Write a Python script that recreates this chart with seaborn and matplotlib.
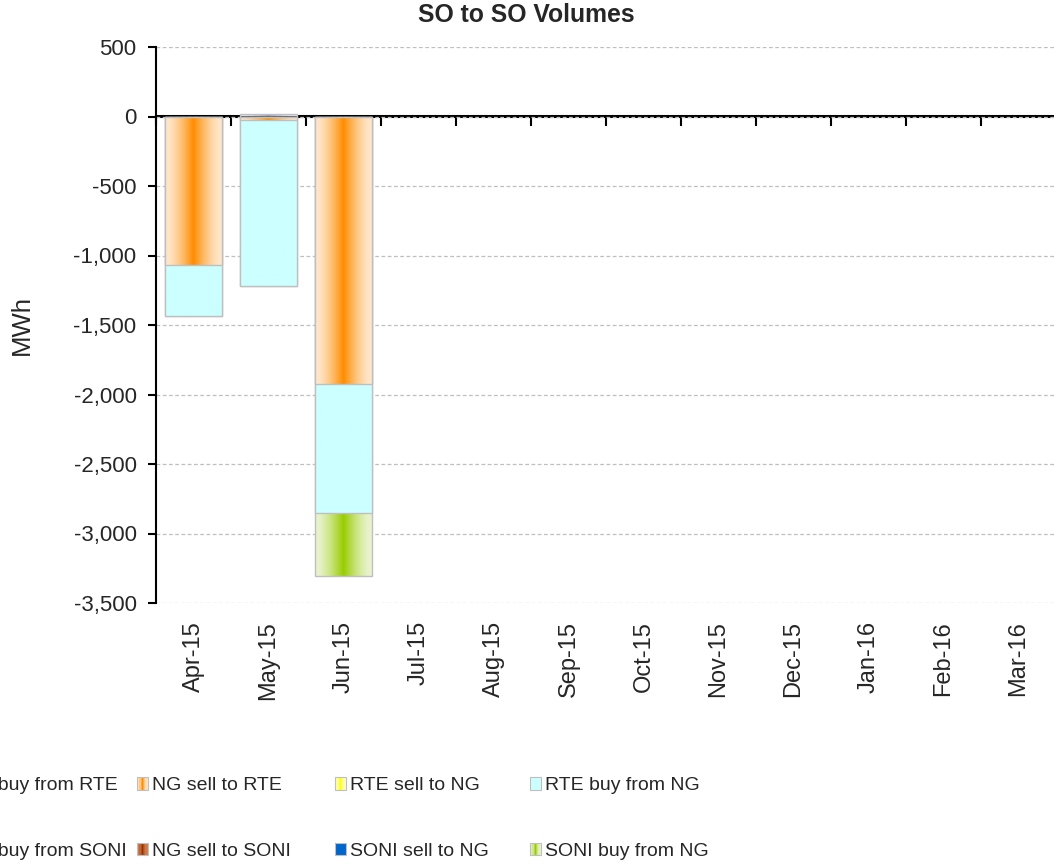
import numpy as np
import matplotlib
matplotlib.use("Agg")
import matplotlib.pyplot as plt
import seaborn as sns
from matplotlib.patches import Rectangle
from matplotlib.legend_handler import HandlerBase
from matplotlib.colors import to_rgb
from matplotlib.ticker import FuncFormatter
from matplotlib import font_manager

# ---------------- data ----------------
months = ["Apr-15", "May-15", "Jun-15", "Jul-15", "Aug-15", "Sep-15",
          "Oct-15", "Nov-15", "Dec-15", "Jan-16", "Feb-16", "Mar-16"]

ng_buy_from_rte = [0, 15, 0, 0, 0, 0, 0, 0, 0, 0, 0, 0]
ng_sell_to_rte = [-1066, -22, -1925, 0, 0, 0, 0, 0, 0, 0, 0, 0]
rte_sell_to_ng = [0, 0, 0, 0, 0, 0, 0, 0, 0, 0, 0, 0]
rte_buy_from_ng = [-367, -1195, -925, 0, 0, 0, 0, 0, 0, 0, 0, 0]
ng_buy_from_soni = [0, 0, 0, 0, 0, 0, 0, 0, 0, 0, 0, 0]
ng_sell_to_soni = [0, 0, 0, 0, 0, 0, 0, 0, 0, 0, 0, 0]
soni_sell_to_ng = [0, 0, 0, 0, 0, 0, 0, 0, 0, 0, 0, 0]
soni_buy_from_ng = [0, 0, -455, 0, 0, 0, 0, 0, 0, 0, 0, 0]

series_names = ["NG buy from RTE", "NG sell to RTE", "RTE sell to NG", "RTE buy from NG",
                "NG buy from SONI", "NG sell to SONI", "SONI sell to NG", "SONI buy from NG"]
series_values = [ng_buy_from_rte, ng_sell_to_rte, rte_sell_to_ng, rte_buy_from_ng,
                 ng_buy_from_soni, ng_sell_to_soni, soni_sell_to_ng, soni_buy_from_ng]

# (centre colour, edge colour) of the horizontal gradient of each series
centre_colors = ["#9A9AC8", "#FF8C00", "#FFFF00", "#CCFFFF",
                 "#6B6B9A", "#993300", "#0066CC", "#99CC00"]
edge_colors = ["#E4E4F2", "#FFE6C8", "#FFFFC8", "#CCFFFF",
               "#C8C8DC", "#D08050", "#0066CC", "#E8F3CC"]

# ---------------- style ----------------
sns.set_style("white")
names = {f.name for f in font_manager.fontManager.ttflist}
BASE = "Liberation Sans" if "Liberation Sans" in names else "DejaVu Sans"
plt.rcParams["font.family"] = [BASE, "DejaVu Sans"]

W, H = 1054, 866
fig = plt.figure(figsize=(W / 100, H / 100), dpi=100)
ax = fig.add_axes([156 / W, 1 - 603 / H, 900 / W, 556 / H])


def gradient(centre, edge, n=96):
    u = np.linspace(-1, 1, n)
    w = np.clip((1 - np.abs(u) - 0.08) / 0.92, 0, 1) ** 1.4
    c = np.array(to_rgb(centre))
    e = np.array(to_rgb(edge))
    return (e[None, :] * (1 - w[:, None]) + c[None, :] * w[:, None])[None, :, :]


z = 2.0
for sign in (-1, 1):
    parts = [np.where(np.sign(v) == sign, np.array(v, float), 0.0) for v in series_values]
    cums = np.cumsum(parts, axis=0)
    for k in range(len(series_values) - 1, -1, -1):
        if not np.any(parts[k]):
            continue
        n_before = len(ax.patches)
        sns.barplot(x=months, y=cums[k], order=months, color=centre_colors[k],
                    saturation=1, width=0.76, edgecolor="#BFBFBF", linewidth=1.0,
                    errorbar=None, ax=ax)
        grad = gradient(centre_colors[k], edge_colors[k])
        for p in ax.patches[n_before:]:
            p.set_zorder(z + 0.6)
            p.set_facecolor("none")
            hgt = p.get_height()
            if hgt == 0:
                p.set_visible(False)
                continue
            x0 = p.get_x()
            x1 = x0 + p.get_width()
            y0 = p.get_y()
            y1 = y0 + hgt
            im = ax.imshow(grad, extent=(x0, x1, min(y0, y1), max(y0, y1)),
                           aspect="auto", interpolation="bilinear", zorder=z + 0.3)
            im.set_clip_path(p)
        z += 1

ylo, yhi = -3500, 500
ax.set_xlim(-0.5, len(months) - 0.5)
ax.set_ylim(ylo, yhi)
ax.set_xlabel("")

# y axis
ax.set_yticks(np.arange(ylo, yhi + 1, 500))
ax.yaxis.set_major_formatter(FuncFormatter(lambda v, _: f"{v:,.0f}"))
ax.tick_params(axis="y", direction="out", length=6, width=1.5, color="black",
               labelsize=16, pad=8, left=True)
ax.set_ylabel("MWh", fontsize=18.5)
ax.yaxis.set_label_coords((34 - 156) / 900, 0.5)

# x axis labels at the bottom
ax.set_xticks(range(len(months)))
ax.set_xticklabels(months, rotation=90, fontsize=17)
ax.tick_params(axis="x", length=0, pad=13)

# spines & grid
for s in ("top", "right", "bottom"):
    ax.spines[s].set_visible(False)
ax.spines["left"].set_color("black")
ax.spines["left"].set_linewidth(1.5)
ax.yaxis.grid(True, linestyle=(0, (3, 2)), color="#BFBFBF", linewidth=0.9)
ax.xaxis.grid(False)
ax.set_axisbelow(True)

# zero line with category boundary ticks
zero_frac = (0 - ylo) / (yhi - ylo)
secax = ax.secondary_xaxis(zero_frac)
secax.set_xticks(np.arange(len(months) + 1) - 0.5)
secax.set_xticklabels([])
secax.tick_params(direction="in", length=7, width=1.5, color="black")
for s in secax.spines.values():
    s.set_linewidth(2.2)
    s.set_color("black")

# title
fig.text(526 / W, 1 - 15 / H, "SO to SO Volumes", ha="center", va="center",
         fontweight="bold", fontsize=17.8)


# legend with gradient swatches
class GradHandler(HandlerBase):
    def __init__(self, centre, edge):
        super().__init__()
        self.centre, self.edge = centre, edge

    def create_artists(self, legend, orig_handle, xdescent, ydescent, width,
                       height, fontsize, trans):
        n = 9
        g = gradient(self.centre, self.edge, n)[0]
        arts = []
        for i in range(n):
            arts.append(Rectangle((-xdescent + i * width / n, -ydescent), width / n, height,
                                  facecolor=g[i], edgecolor="none", transform=trans))
        arts.append(Rectangle((-xdescent, -ydescent), width, height, facecolor="none",
                              edgecolor="#BFBFBF", linewidth=0.8, transform=trans))
        return arts


col_x = [-52, 137, 335, 530]
for c in range(4):
    idx = [c, c + 4]
    handles, hmap = [], {}
    for i in idx:
        h = Rectangle((0, 0), 1, 1)
        handles.append(h)
        hmap[h] = GradHandler(centre_colors[i], edge_colors[i])
    fig.legend(handles, [series_names[i] for i in idx], handler_map=hmap,
               loc="center left", bbox_to_anchor=(col_x[c] / W, 1 - 818.4 / H),
               frameon=False, borderpad=0, borderaxespad=0,
               handlelength=0.55, handleheight=0.62, handletextpad=0.2,
               labelspacing=2.5, prop={"size": 14})

fig.savefig("out.png", dpi=100)
